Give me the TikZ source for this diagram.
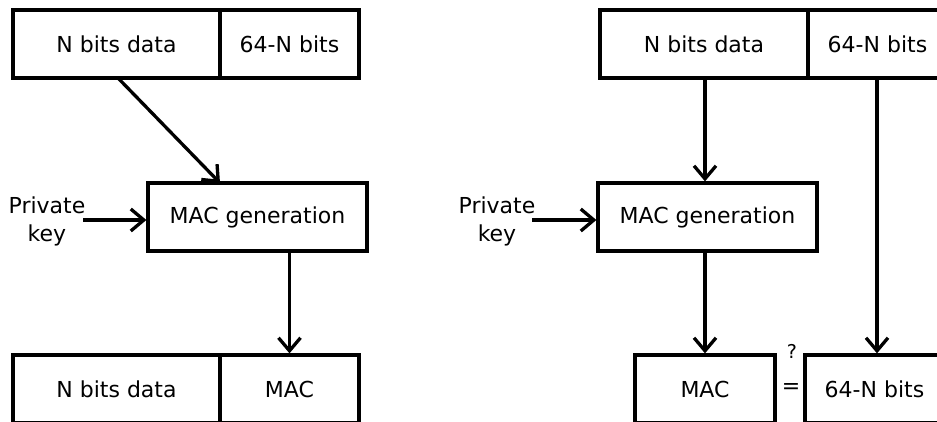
\documentclass[tikz,border=0pt]{standalone}
\usepackage{fontspec}
\setmainfont{DejaVu Sans}
\usetikzlibrary{arrows.meta}
\begin{document}
\begin{tikzpicture}[x=1pt,y=-1pt,
  box/.style={draw,line width=3.3pt,inner sep=0pt,minimum height=68pt,font=\fontsize{22}{27}\selectfont},
  lbl/.style={inner sep=0pt,font=\fontsize{22}{28}\selectfont},
  arr/.style={line width=3.3pt,-{Straight Barb[length=13pt,width=22pt,line width=3.3pt]}}]
\useasboundingbox (0,0) rectangle (937,421);
\clip (0,0) rectangle (937,421);
% ---------- left ----------
\node[box,minimum width=207pt] (ltd) at (116.5,44) {N bits data};
\node[box,minimum width=139pt] (ltb) at (289.5,44) {64-N bits};
\node[box,minimum width=219pt] (lgen) at (257.5,217) {MAC generation};
\node[lbl,align=center] (lpk) at (47,221) {Private\\key};
\node[box,minimum width=207pt] (lbd) at (116.5,389) {N bits data};
\node[box,minimum width=139pt] (lbm) at (289.5,389) {MAC};
\coordinate (lpks) at (83,220);
\coordinate (ld1) at (118,78);
\coordinate (ld2) at (220,183);
\draw[arr] (lpks) -- (lpks -| lgen.west);
\draw[arr] (ld1) -- (ld2);
\draw[arr] (lgen.south -| lbm.north) -- (lbm.north);
% ---------- right ----------
\node[box,minimum width=208pt] (rtd) at (704,44) {N bits data};
\node[box,minimum width=139pt] (rtb) at (877.5,44) {64-N bits};
\node[box,minimum width=219pt] (rgen) at (707.5,217) {MAC generation};
\node[lbl,align=center] (rpk) at (497,221) {Private\\key};
\node[box,minimum width=140pt] (rbm) at (705,389) {MAC};
\node[box,minimum width=139pt] (rbb) at (874.5,389) {64-N bits};
\node[lbl] (req) at (791,388) {=};
\node[inner sep=0pt,font=\fontsize{19}{22}\selectfont] (rq) at (792,351) {?};
\coordinate (rpks) at (532,220);
\draw[arr] (rpks) -- (rpks -| rgen.west);
\draw[arr] (rtd.south -| rbm.north) -- (rgen.north -| rbm.north);
\draw[arr] (rgen.south -| rbm.north) -- (rbm.north);
\draw[arr] (rtb.south -| 877,0) -- (rbb.north -| 877,0);
\end{tikzpicture}
\end{document}
